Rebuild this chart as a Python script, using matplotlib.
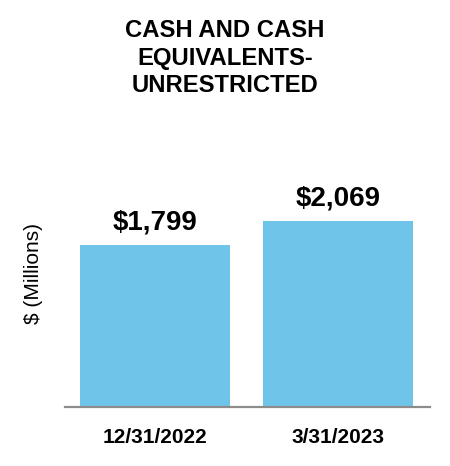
import matplotlib
matplotlib.use("Agg")
import matplotlib.pyplot as plt

categories = ["12/31/2022", "3/31/2023"]
values = [1799, 2069]
value_labels = ["$1,799", "$2,069"]

plt.rcParams['font.family'] = ['Liberation Sans', 'DejaVu Sans']

fig = plt.figure(figsize=(4.5, 4.66), dpi=100)
ax = fig.add_axes([65/450, 59/466, 365/450, 252/466])
x = list(range(len(categories)))
ax.bar(x, values, width=0.82, color="#6FC5E9", zorder=2)
ax.set_xlim(-0.49, 1.5)
ax.set_ylim(0, 2800)
for s in ["top", "right", "left"]:
    ax.spines[s].set_visible(False)
ax.spines["bottom"].set_color("#8c8c8c")
ax.spines["bottom"].set_linewidth(1.6)
ax.set_yticks([])
ax.set_xticks(x)
ax.set_xticklabels(categories, fontsize=15, fontweight="bold")
ax.tick_params(axis="x", length=0, pad=15)
for xi, v, lab in zip(x, values, value_labels):
    ax.annotate(lab, (xi, v), xytext=(0, 7), textcoords="offset points",
                ha="center", va="bottom", fontsize=20, fontweight="bold")
ax.set_ylabel("$ (Millions)", fontsize=15)
ax.yaxis.set_label_coords(-22/365, (407 - 273) / 252)
fig.text(225/450, 1 - 58/466, "CASH AND CASH\nEQUIVALENTS-\nUNRESTRICTED", ha="center", va="center",
         fontsize=17.2, fontweight="bold", linespacing=1.24)
fig.savefig("out.png", dpi=100)
